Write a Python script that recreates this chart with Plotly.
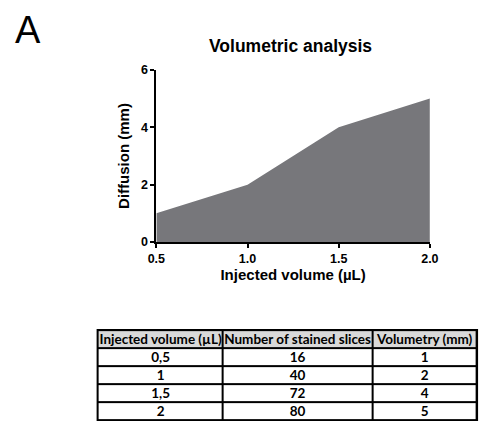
import plotly.graph_objects as go

# Data
injected_volume = [0.5, 1.0, 1.5, 2.0]
diffusion_mm = [1, 2, 4, 5]

table_headers = ["Injected volume (µL)", "Number of stained slices", "Volumetry (mm)"]
table_volume = ["0,5", "1", "1,5", "2"]
table_slices = ["16", "40", "72", "80"]
table_volumetry = ["1", "2", "4", "5"]

W, H = 488, 429
fig = go.Figure()

# Area chart
fig.add_trace(go.Scatter(
    x=injected_volume, y=diffusion_mm,
    mode="lines", line=dict(width=0, color="#77777b"),
    fill="tozeroy", fillcolor="#77777b",
    showlegend=False, hoverinfo="skip",
))

# Table drawn as a heatmap grid (header row grey, body white)
col_widths = [130, 156, 108]
x_edges = [0]
for w in col_widths:
    x_edges.append(x_edges[-1] + w)
rows = [table_headers] + [list(r) for r in zip(table_volume, table_slices, table_volumetry)]
n_rows = len(rows)
y_edges = list(range(n_rows + 1))
z = [[1] * len(col_widths)] + [[0] * len(col_widths) for _ in range(n_rows - 1)]
text = [["<b>" + c + "</b>" for c in r] for r in rows]

fig.add_trace(go.Heatmap(
    x=x_edges, y=y_edges, z=z, text=text,
    texttemplate="%{text}",
    textfont=dict(family="Lato, Open Sans, sans-serif", size=13.5, color="black"),
    colorscale=[[0, "white"], [1, "#d9d9d9"]], zmin=0, zmax=1,
    showscale=False, xgap=2, ygap=2, hoverinfo="skip",
    xaxis="x2", yaxis="y2",
))

axis_font = dict(family="Arial, Liberation Sans, sans-serif", size=12.5, color="black")

fig.update_layout(
    width=W, height=H,
    margin=dict(l=0, r=0, t=0, b=0),
    paper_bgcolor="white", plot_bgcolor="white",
    font=dict(family="Arial, Liberation Sans, sans-serif", color="black"),
    xaxis=dict(
        domain=[153 / W, 437 / W],
        range=[0.5, 2.0],
        tickvals=[0.5, 1.0, 1.5, 2.0],
        ticktext=["<b>0.5</b>", "<b>1.0</b>", "<b>1.5</b>", "<b>2.0</b>"],
        showgrid=False, zeroline=False,
        showline=True, linecolor="black", linewidth=2,
        ticks="outside", ticklen=4, tickwidth=2, tickcolor="black",
        tickfont=axis_font,
        title=dict(text="<b>Injected volume (µL)</b>", font=dict(size=15, color="black"), standoff=4),
    ),
    yaxis=dict(
        domain=[1 - 243 / H, 1 - 65 / H],
        range=[0, 6],
        tickvals=[0, 2, 4, 6],
        ticktext=["<b>0</b>", "<b>2</b>", "<b>4</b>", "<b>6</b>"],
        showgrid=False, zeroline=False,
        showline=True, linecolor="black", linewidth=2,
        ticks="outside", ticklen=4, tickwidth=2, tickcolor="black",
        tickfont=axis_font,
        title=dict(text="<b>Diffusion (mm)</b>", font=dict(size=15, color="black"), standoff=8),
    ),
    xaxis2=dict(
        domain=[92 / W, 486 / W], anchor="y2",
        range=[x_edges[0], x_edges[-1]],
        visible=False, fixedrange=True,
    ),
    yaxis2=dict(
        domain=[1 - 427 / H, 1 - 334 / H], anchor="x2",
        range=[n_rows, 0],
        visible=False, fixedrange=True,
    ),
    shapes=[
        dict(type="rect", xref="x2 domain", yref="y2 domain",
             x0=0, x1=1, y0=0, y1=1, layer="below",
             fillcolor="black", line=dict(color="black", width=2)),
    ],
    annotations=[
        dict(text="<b>Volumetric analysis</b>", x=292 / W, y=1 - 40 / H,
             xref="paper", yref="paper", showarrow=False,
             font=dict(size=17.5, color="black", family="Arial, Liberation Sans, sans-serif"),
             xanchor="center", yanchor="middle"),
        dict(text="A", x=20 / W, y=1 - 24 / H,
             xref="paper", yref="paper", showarrow=False,
             font=dict(size=38, color="black", family="Arial, Liberation Sans, sans-serif"),
             xanchor="center", yanchor="middle"),
    ],
)

fig.write_html(
    "out.html",
    config={"displayModeBar": False},
    post_script="document.body.style.margin='0';document.body.style.overflow='hidden';",
)
